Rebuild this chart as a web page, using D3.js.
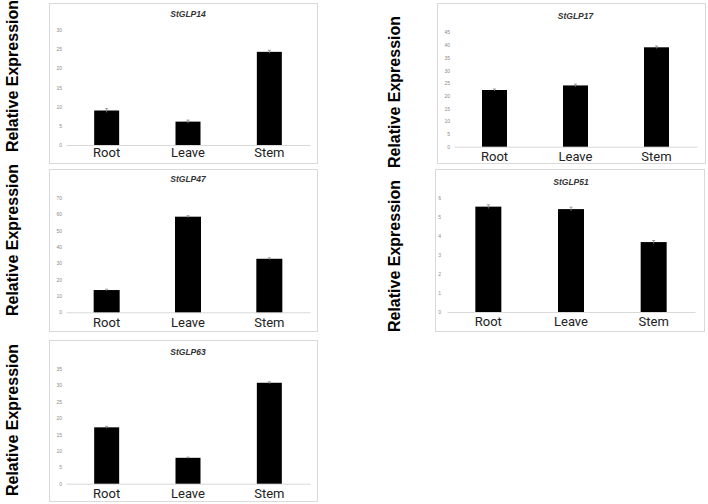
<!DOCTYPE html>
<html><head><meta charset="utf-8">
<script src="https://cdn.jsdelivr.net/npm/d3@7"></script>
<style>html,body{margin:0;padding:0;background:#fff;}svg{display:block;}</style>
</head><body>
<script>
const categories = ["Root", "Leave", "Stem"];
const genes = ["StGLP14", "StGLP17", "StGLP47", "StGLP51", "StGLP63"];
const stglp14 = [9.0, 6.1, 24.3];
const stglp17 = [22.3, 24.1, 39.1];
const stglp47 = [13.6, 58.4, 32.7];
const stglp51 = [5.56, 5.43, 3.69];
const stglp63 = [17.2, 7.9, 30.8];
const err14 = [0.5, 0.4, 0.4];
const err17 = [0.4, 0.5, 0.5];
const err47 = [0.5, 0.6, 0.6];
const err51 = [0.1, 0.1, 0.08];
const err63 = [0.3, 0.2, 0.3];
const yMaxes = [30, 45, 70, 6, 35];
const yTickSteps = [5, 5, 10, 1, 5];
const yTitle = "Relative Expression";

const values = [stglp14, stglp17, stglp47, stglp51, stglp63];
const errors = [err14, err17, err47, err51, err63];

// layout per panel (box, plot area, text positions)
const layout = [
  {box:[49,3,317,163], x:[66,310], y0:145, yTop:30, title:15, lab:157, tickX:62, yl:[14,76], bw:25},
  {box:[437,3,705,163], x:[454,697], y0:146.7, yTop:32.3, title:17, lab:161, tickX:450, yl:[396,92], bw:25},
  {box:[49,169,317,331], x:[66,310], y0:312.3, yTop:197.7, title:180, lab:327, tickX:62, yl:[14,240], bw:26},
  {box:[435,169,704,331], x:[447,695], y0:312, yTop:198.3, title:183, lab:326, tickX:441, yl:[396,256], bw:26},
  {box:[49,340,317,501], x:[66,310], y0:483.7, yTop:369, title:353, lab:498, tickX:62, yl:[14,420], bw:25}
];

const svg = d3.select("body").append("svg").attr("width", 708).attr("height", 504);

genes.forEach((gene, i) => {
  const L = layout[i];
  const g = svg.append("g");
  g.append("rect")
    .attr("x", L.box[0] + 0.5).attr("y", L.box[1] + 0.5)
    .attr("width", L.box[2] - L.box[0]).attr("height", L.box[3] - L.box[1])
    .attr("fill", "#fff").attr("stroke", "#d9d9d9").attr("stroke-width", 1);

  const x = d3.scaleBand().domain(categories).range(L.x);
  const step = x.step();
  const pi = 1 - L.bw / step;
  x.paddingInner(pi).paddingOuter(pi / 2);
  const y = d3.scaleLinear().domain([0, yMaxes[i]]).range([L.y0, L.yTop]);

  // title
  g.append("text").attr("x", (L.x[0] + L.x[1]) / 2).attr("y", L.title)
    .attr("text-anchor", "middle").attr("dominant-baseline", "middle")
    .style("font-family", "'Liberation Sans', Arial, sans-serif")
    .style("font-size", "8.5px").style("font-weight", "bold").style("font-style", "italic")
    .attr("fill", "#333").text(gene);

  // y ticks
  const ticks = d3.range(0, yMaxes[i] + yTickSteps[i] / 2, yTickSteps[i]);
  const yAxis = d3.axisLeft(y).tickValues(ticks).tickFormat(d3.format("d")).tickSize(0).tickPadding(0);
  const ya = g.append("g").attr("transform", `translate(${L.tickX},0)`).call(yAxis);
  ya.select(".domain").remove();
  ya.selectAll("text").attr("fill", "#8a8a8a")
    .style("font-family", "'Liberation Sans', Arial, sans-serif").style("font-size", "5px");

  // baseline
  const xa = g.append("g").attr("transform", `translate(0,${L.y0})`)
    .call(d3.axisBottom(x).tickSize(0).tickPadding(0).tickFormat(""));
  xa.select(".domain").attr("stroke", "#d9d9d9").attr("stroke-width", 1);

  // bars
  g.selectAll(".bar").data(values[i]).enter().append("rect")
    .attr("x", (d, j) => x(categories[j]))
    .attr("y", d => y(d))
    .attr("width", x.bandwidth())
    .attr("height", d => y(0) - y(d))
    .attr("fill", "#000");

  // error bars
  values[i].forEach((v, j) => {
    const cx = x(categories[j]) + x.bandwidth() / 2;
    const e = errors[i][j];
    const eg = g.append("g").attr("stroke", "#888").attr("stroke-width", 0.8);
    eg.append("line").attr("x1", cx).attr("x2", cx).attr("y1", y(v + e)).attr("y2", y(v - e));
    eg.append("line").attr("x1", cx - 1.5).attr("x2", cx + 1.5).attr("y1", y(v + e)).attr("y2", y(v + e));
  });

  // category labels
  g.selectAll(".cat").data(categories).enter().append("text")
    .attr("x", d => x(d) + x.bandwidth() / 2).attr("y", L.lab)
    .attr("text-anchor", "middle")
    .style("font-family", "Roboto, sans-serif").style("font-size", "13px")
    .attr("fill", "#222").text(d => d);

  // y title
  svg.append("text")
    .attr("transform", `translate(${L.yl[0]},${L.yl[1]}) rotate(-90)`)
    .attr("text-anchor", "middle").attr("dominant-baseline", "middle")
    .style("font-family", "'Liberation Sans', Arial, sans-serif")
    .style("font-size", "16px").style("font-weight", "bold")
    .attr("fill", "#000").text(yTitle);
});
</script>
</body></html>
